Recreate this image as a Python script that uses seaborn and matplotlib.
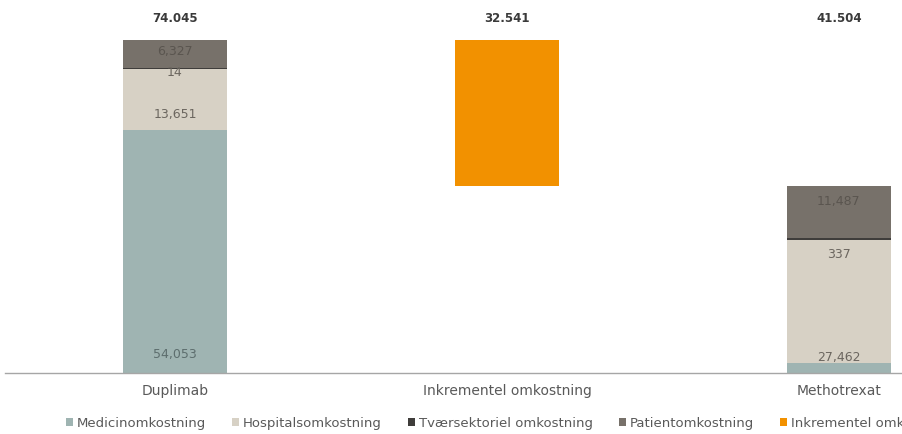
import matplotlib
matplotlib.use("Agg")
import matplotlib.pyplot as plt
from matplotlib.patches import Patch
import seaborn as sns
import numpy as np
import pandas as pd

categories = ["Duplimab", "Inkrementel omkostning", "Methotrexat"]
series_names = ["Medicinomkostning", "Hospitalsomkostning", "Tværsektoriel omkostning",
                "Patientomkostning", "Inkrementel omkostning"]
medicin = [54053, 0, 2218]
hospital = [13651, 0, 27462]
tvaer = [14, 0, 337]
patient = [6327, 0, 11487]
inkrementel = [0, 32541, 0]
waterfall_base = [0, 41504, 0]
totals = ["74.045", "32.541", "41.504"]
segment_labels = {
    "Medicinomkostning": ["54,053", None, None],
    "Hospitalsomkostning": ["13,651", None, "27,462"],
    "Tværsektoriel omkostning": ["14", None, "337"],
    "Patientomkostning": ["6,327", None, "11,487"],
}

colors = {
    "Medicinomkostning": "#9fb4b2",
    "Hospitalsomkostning": "#d7d1c5",
    "Tværsektoriel omkostning": "#3f3d3b",
    "Patientomkostning": "#77716a",
    "Inkrementel omkostning": "#f29100",
}
label_colors = {
    "Medicinomkostning": "#5d6e6e",
    "Hospitalsomkostning": "#6b665f",
    "Tværsektoriel omkostning": "#6b665f",
    "Patientomkostning": "#5a554f",
}
# label vertical offset in points relative to segment base
label_dy = {
    "Medicinomkostning": [13, 0, 0],
    "Hospitalsomkostning": [11, 0, 4.3],
    "Tværsektoriel omkostning": [-3.2, 0, -11],
    "Patientomkostning": [12, 0, 26],
}

sns.set_theme(style="white")
plt.rcParams["font.family"] = ["DejaVu Sans"]

fig = plt.figure(figsize=(9.02, 4.34), dpi=100)
ax = fig.add_axes([5 / 902, 61 / 434, 897 / 902, 373 / 434])

df = pd.DataFrame({"cat": categories})
layers = [
    ("Medicinomkostning", medicin),
    ("Hospitalsomkostning", hospital),
    ("Tværsektoriel omkostning", tvaer),
    ("Patientomkostning", patient),
]
bottom = np.array(waterfall_base, dtype=float)
bases = {}
bw = 0.313
for name, vals in layers:
    d = df.copy()
    d["v"] = vals
    bases[name] = bottom.copy()
    sns.barplot(data=d, x="cat", y="v", color=colors[name], width=bw, ax=ax,
                bottom=bottom.copy(), saturation=1, linewidth=0, order=categories)
    bottom = bottom + np.array(vals, dtype=float)

d = df.copy()
d["v"] = inkrementel
sns.barplot(data=d, x="cat", y="v", color=colors["Inkrementel omkostning"], width=bw, ax=ax,
            bottom=np.array(waterfall_base, dtype=float), saturation=1, linewidth=0, order=categories)

for name, vals in layers:
    for i, lab in enumerate(segment_labels[name]):
        if lab is None:
            continue
        ax.annotate(lab, (i, bases[name][i]), xytext=(0, label_dy[name][i]),
                    textcoords="offset points", ha="center", va="center",
                    fontsize=9, color=label_colors[name])

for i, t in enumerate(totals):
    ax.annotate(t, (i, 1.0), xycoords=("data", "axes fraction"), xytext=(0, -13),
                textcoords="offset points", ha="center", va="center", fontsize=8.5,
                fontweight="bold", color="#3a3a3a")

ax.set_xlim(-0.512, 2.19)
ax.set_ylim(0, 82940)
ax.set_xlabel("")
ax.set_ylabel("")
ax.set_yticks([])
for s in ["top", "right", "left"]:
    ax.spines[s].set_visible(False)
ax.spines["bottom"].set_color("#a6a6a6")
ax.spines["bottom"].set_linewidth(1.0)
ax.tick_params(axis="x", length=0, pad=8, labelsize=10, labelcolor="#595959")

handles = [Patch(facecolor=colors[n], edgecolor="none") for n in series_names]
fig.legend(handles, series_names, loc="center left", bbox_to_anchor=(66 / 902, 1 - 423 / 434),
           ncol=5, frameon=False, fontsize=9.5, handlelength=0.55, handleheight=0.55,
           handletextpad=0.25, columnspacing=2.0, borderpad=0, borderaxespad=0,
           labelcolor="#595959")

fig.savefig("out.png", dpi=100)
